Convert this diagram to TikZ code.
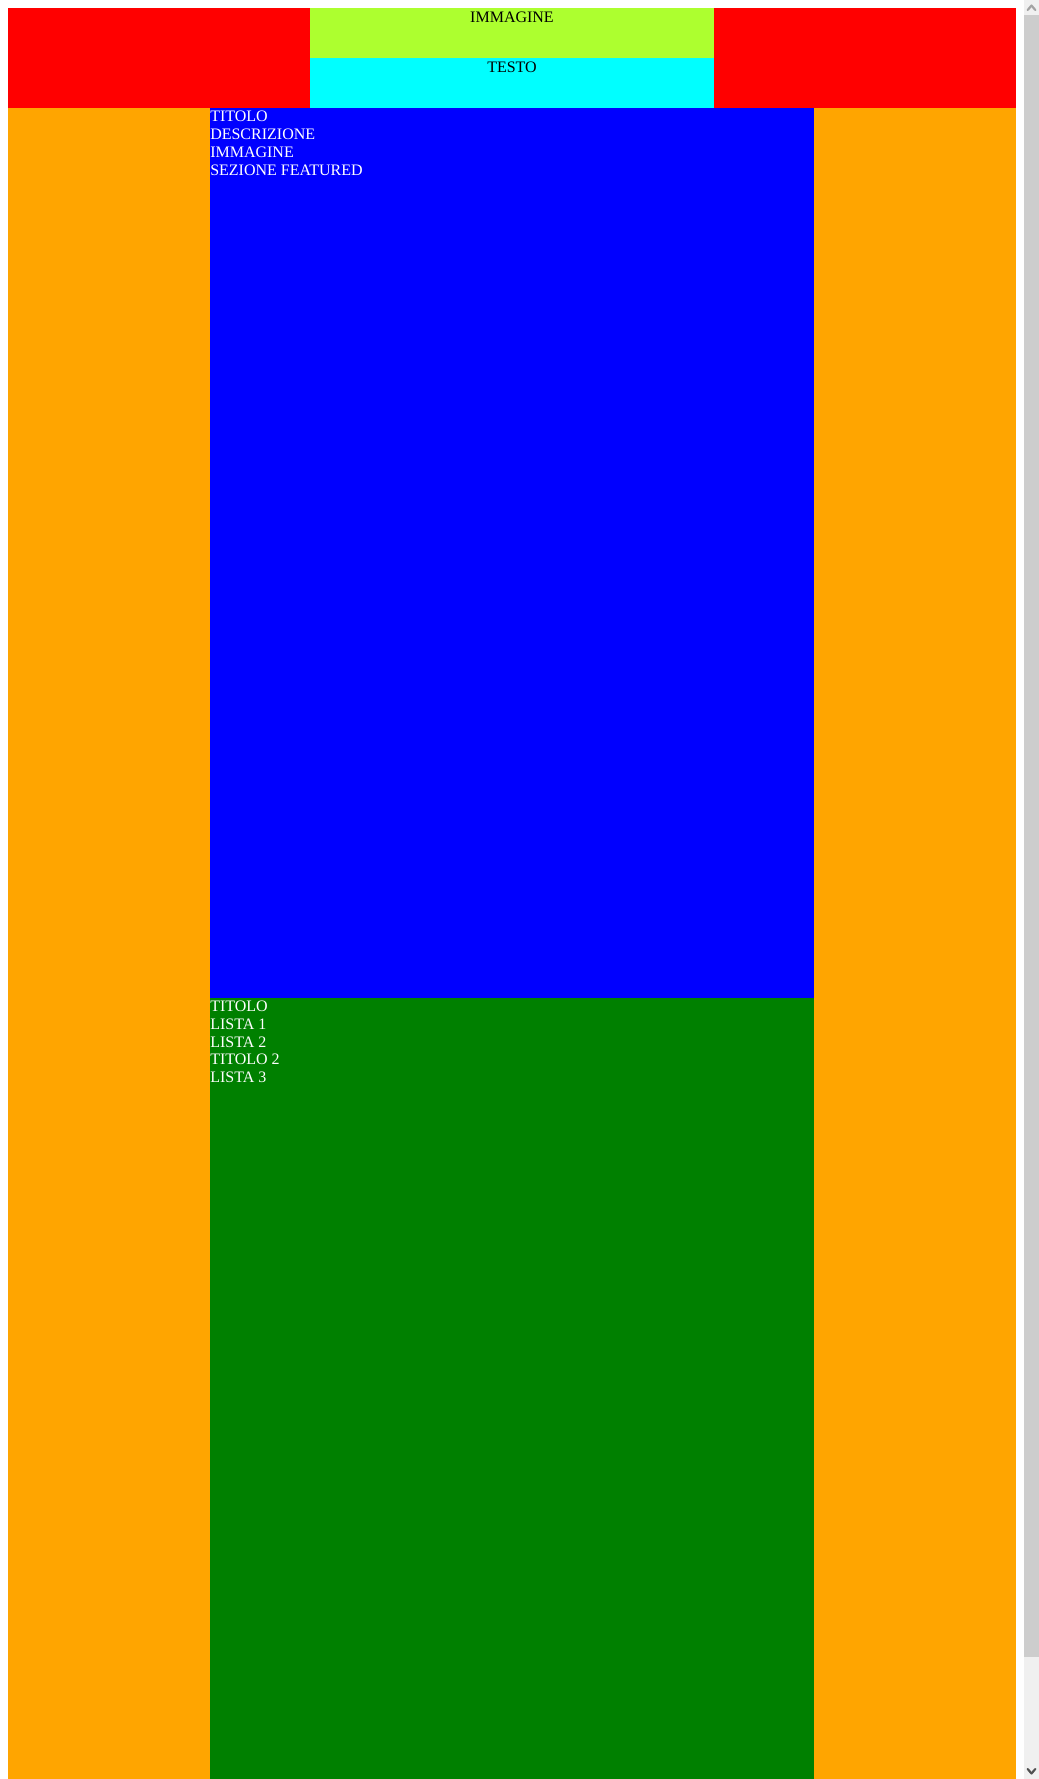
\documentclass[tikz,border=0pt]{standalone}
\usepackage{fontspec}
\setmainfont{Liberation Serif}
\usetikzlibrary{positioning}
\definecolor{pRed}{HTML}{FF0000}
\definecolor{pLime}{HTML}{ADFF2F}
\definecolor{pCyan}{HTML}{00FFFF}
\definecolor{pOrange}{HTML}{FFA500}
\definecolor{pBlue}{HTML}{0000FF}
\definecolor{pGreen}{HTML}{008000}
\definecolor{pThumb}{HTML}{CDCDCD}
\definecolor{pTrack}{HTML}{F0F0F0}
\definecolor{pArrowUp}{HTML}{A3A3A3}
\definecolor{pArrowDn}{HTML}{505050}

\begin{document}
\begin{tikzpicture}[
  x=0.75pt, y=-0.75pt,
  pagetext/.style={inner sep=0pt, align=left, font=\fontsize{12}{13.3}\selectfont},
  headtext/.style={pagetext, text=black, anchor=base},
  bodytext/.style={pagetext, text=white, anchor=base west},
  chevron/.style={line width=1.6pt, line cap=round, line join=round},
]
  \useasboundingbox[fill=white] (0,0) rectangle (1039,1779);
  % header
  \fill[pRed]    (8,8)    rectangle (1016,108);
  \fill[pLime]   (310,8)  rectangle (714,58);
  \fill[pCyan]   (310,58) rectangle (714,108);
  % page body
  \fill[pOrange] (8,108)  rectangle (1016,1779);
  \fill[pBlue]   (210,108) rectangle (814,998);
  \fill[pGreen]  (210,998) rectangle (814,1779);
  % scrollbar
  \fill[pTrack]  (1024,0) rectangle (1039,1779);
  \fill[pThumb]  (1024,15) rectangle (1039,1657);
  \draw[chevron, pArrowUp] (1027.7,10) -- (1031.5,5.5) -- (1035.3,10);
  \draw[chevron, pArrowDn] (1027.7,1769) -- (1031.5,1773.5) -- (1035.3,1769);

  \node[headtext] (immagine) at (512,22) {IMMAGINE};
  \node[headtext] (testo) at (512,72) {TESTO};
  % base anchor sits on the last line
  \node[bodytext] (featured) at (210,175)
    {TITOLO\\DESCRIZIONE\\IMMAGINE\\SEZIONE FEATURED};
  \node[bodytext] (liste) at (210,1082.6)
    {TITOLO\\LISTA 1\\LISTA 2\\TITOLO 2\\LISTA 3};
\end{tikzpicture}
\end{document}
